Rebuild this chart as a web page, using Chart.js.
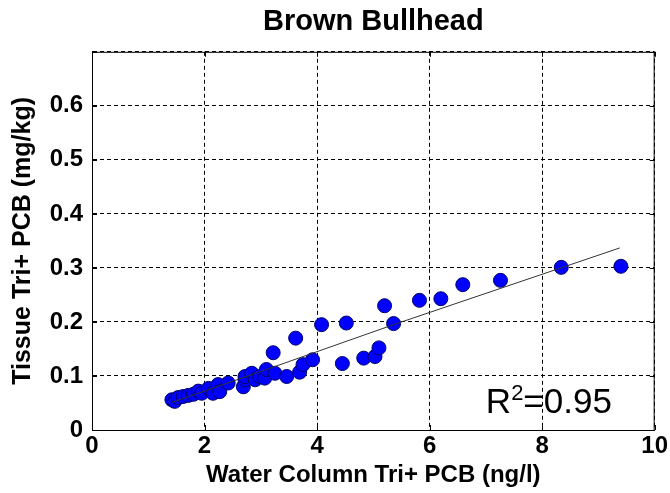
<!DOCTYPE html>
<html>
<head>
<meta charset="utf-8">
<script src="https://cdn.jsdelivr.net/npm/chart.js@4"></script>
<style>
  html, body { margin: 0; padding: 0; background: #fff; }
  #wrap { width: 670px; height: 493px; }
</style>
</head>
<body>
<div id="wrap"><canvas id="bullheadChart" width="670" height="493"></canvas></div>
<script>
// Water column vs tissue Tri+ PCB, brown bullhead
const fishX = [1.42, 1.47, 1.53, 1.62, 1.71, 1.80, 1.89, 1.95, 2.07, 2.15, 2.24, 2.27, 2.42,
  2.69, 2.72, 2.72, 2.84, 2.90, 2.98, 3.07, 3.10, 3.22, 3.25, 3.46, 3.62, 3.69, 3.75, 3.92,
  4.08, 4.45, 4.52, 4.83, 5.03, 5.10, 5.20, 5.36, 5.82, 6.20, 6.59, 7.26, 8.34, 9.40];
const fishY = [0.056, 0.053, 0.060, 0.062, 0.064, 0.066, 0.072, 0.068, 0.077, 0.068, 0.084, 0.071, 0.087,
  0.080, 0.093, 0.099, 0.105, 0.093, 0.099, 0.096, 0.112, 0.143, 0.105, 0.099, 0.170, 0.107, 0.121, 0.130,
  0.195, 0.123, 0.198, 0.133, 0.136, 0.152, 0.230, 0.197, 0.240, 0.243, 0.269, 0.277, 0.301, 0.303];

// fitted line
const trendX = [1.42, 3.10, 5.36, 9.38];
const trendY = [0.051, 0.112, 0.195, 0.337];

const rSquared = '0.95';

const font = 'Liberation Sans, Arial, sans-serif';

// box, inner ticks and the R^2 note
const framePlugin = {
  id: 'frame',
  afterDraw(chart) {
    const { ctx, chartArea: a, scales } = chart;
    ctx.save();
    ctx.setLineDash([]);
    ctx.strokeStyle = '#000';
    ctx.lineWidth = 1;
    ctx.strokeRect(a.left + 0.5, a.top + 0.5, a.right - a.left - 1, a.bottom - a.top);

    // MATLAB style inward ticks
    const len = 5;
    ctx.beginPath();
    scales.x.ticks.forEach(t => {
      const px = Math.round(scales.x.getPixelForValue(t.value)) + 0.5;
      ctx.moveTo(px, a.bottom); ctx.lineTo(px, a.bottom - len);
      ctx.moveTo(px, a.top); ctx.lineTo(px, a.top + len);
    });
    scales.y.ticks.forEach(t => {
      const py = Math.round(scales.y.getPixelForValue(t.value)) + 0.5;
      ctx.moveTo(a.left, py); ctx.lineTo(a.left + len, py);
      ctx.moveTo(a.right, py); ctx.lineTo(a.right - len, py);
    });
    ctx.stroke();

    // R^2 label
    let x = scales.x.getPixelForValue(7.0);
    const y = scales.y.getPixelForValue(0.032);
    ctx.fillStyle = '#000';
    ctx.textBaseline = 'alphabetic';
    ctx.textAlign = 'left';
    ctx.font = '35px ' + font;
    ctx.fillText('R', x, y);
    x += ctx.measureText('R').width;
    ctx.font = '22px ' + font;
    ctx.fillText('2', x, y - 13);
    x += ctx.measureText('2').width;
    ctx.font = '35px ' + font;
    ctx.fillText('=' + rSquared, x, y);
    ctx.restore();
  }
};

const ctx = document.getElementById('bullheadChart');

new Chart(ctx, {
  type: 'scatter',
  data: {
    datasets: [
      {
        type: 'line',
        label: 'fit',
        data: trendX.map((x, i) => ({ x: x, y: trendY[i] })),
        borderColor: '#333',
        borderWidth: 1,
        pointRadius: 0,
        fill: false,
        order: 0
      },
      {
        label: 'Brown Bullhead',
        data: fishX.map((x, i) => ({ x: x, y: fishY[i] })),
        backgroundColor: '#0000ff',
        borderColor: '#00006a',
        borderWidth: 1,
        pointRadius: 7,
        order: 1
      }
    ]
  },
  options: {
    responsive: false,
    animation: false,
    layout: { padding: { left: 0, right: 14, top: 0, bottom: 0 } },
    plugins: {
      legend: { display: false },
      tooltip: { enabled: false },
      title: {
        display: true,
        text: 'Brown Bullhead',
        fullSize: false,
        color: '#000',
        font: { family: font, size: 29, weight: 'bold', lineHeight: 1.2 },
        padding: { top: 5, bottom: 12 }
      }
    },
    scales: {
      x: {
        type: 'linear',
        min: 0,
        max: 10,
        afterFit(scale) { scale.height = 63; },
        ticks: {
          stepSize: 2,
          color: '#000',
          padding: 2,
          maxRotation: 0,
          font: { family: font, size: 24, weight: 'bold' }
        },
        grid: { color: '#000', lineWidth: 1, drawTicks: false },
        border: { display: true, color: '#000', dash: [4, 3] },
        title: {
          display: true,
          text: 'Water Column Tri+ PCB (ng/l)',
          color: '#000',
          font: { family: font, size: 24, weight: 'bold', lineHeight: 1.2 },
          padding: { top: 0, bottom: 3 }
        }
      },
      y: {
        type: 'linear',
        min: 0,
        max: 0.7,
        afterFit(scale) { scale.width = 92; },
        ticks: {
          stepSize: 0.1,
          color: '#000',
          padding: 9,
          font: { family: font, size: 24, weight: 'bold' },
          callback: function (value) {
            if (value > 0.65) return '';
            return value === 0 ? '0' : value.toFixed(1);
          }
        },
        grid: { color: '#000', lineWidth: 1, drawTicks: false },
        border: { display: true, color: '#000', dash: [4, 3] },
        title: {
          display: true,
          text: 'Tissue Tri+ PCB (mg/kg)',
          color: '#000',
          font: { family: font, size: 25, weight: 'bold', lineHeight: 1.2 },
          padding: { top: 8, bottom: 0 }
        }
      }
    }
  },
  plugins: [framePlugin]
});
</script>
</body>
</html>
